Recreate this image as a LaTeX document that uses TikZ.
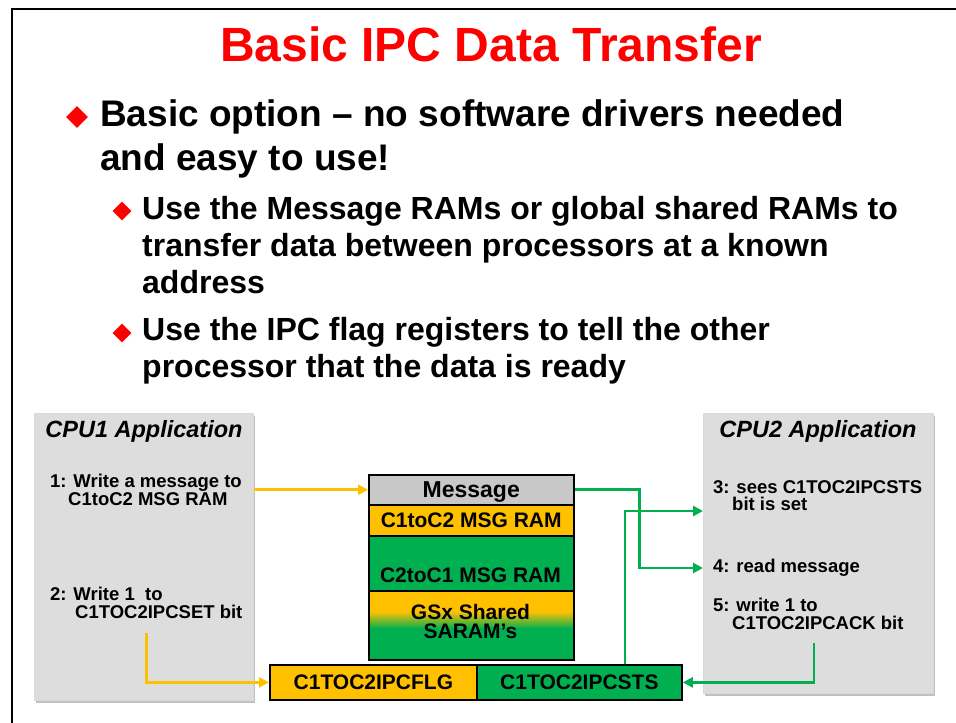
\documentclass[tikz,border=0pt]{standalone}
\usepackage{fontspec}
\setmainfont{Liberation Sans}
\usetikzlibrary{arrows.meta,shapes.geometric,shadows}
\definecolor{tiyel}{HTML}{FFC000}
\definecolor{tigrn}{HTML}{00B050}
\definecolor{boxgray}{HTML}{DDDDDD}
\definecolor{msggray}{HTML}{C8C8C8}
\newcommand{\fsz}[2]{\fontsize{#1}{#2}\selectfont}
\begin{document}
\begin{tikzpicture}[x=1pt,y=-1pt,
  lone/.style={inner sep=0pt, anchor=base west, font=\bfseries\fsz{37}{45}},
  ltwo/.style={inner sep=0pt, anchor=base west, font=\bfseries\fsz{32}{37}},
  bul/.style={diamond, fill=red, inner sep=0pt, aspect=1},
  txt/.style={inner sep=0pt, anchor=base west, font=\bfseries\fsz{18.5}{19}},
  apptitle/.style={inner sep=0pt, anchor=base, font=\bfseries\itshape\fsz{23.5}{25}},
  appbox/.style={fill=boxgray, draw=gray!30, line width=0.6pt, inner sep=0pt, anchor=north west,
    drop shadow={shadow xshift=1.5pt, shadow yshift=-2.5pt, opacity=0.35, fill=black!70}},
  memrow/.style={draw=black, line width=1.5pt, inner sep=0pt, minimum width=205, anchor=north west,
    font=\bfseries\fsz{21}{22}, text height=15, text depth=0},
  memtxt/.style={inner sep=0pt, anchor=base, font=\bfseries\fsz{21}{22}},
  reg/.style={draw=black, line width=1.8pt, inner sep=0pt, minimum height=35, anchor=north west,
    font=\bfseries\fsz{21}{22}, text height=15, text depth=0},
  yarrow/.style={draw=tiyel, line width=2.9pt, -{Triangle[length=10pt,width=10pt]}},
  garrow/.style={draw=tigrn, line width=2.9pt, -{Triangle[length=10pt,width=10pt]}}
]
\useasboundingbox (0,0) rectangle (956,723);
\fill[white] (0,0) rectangle (956,723);
% frame
\draw[line width=2.5pt] (12,723) -- (12,9) -- (956,9);

% title
\node[inner sep=0pt, anchor=base, font=\bfseries\fsz{48}{50}, text=red] (title) at (491,61) {Basic IPC Data Transfer};

% bullets
\node[bul, minimum width=22, minimum height=22] (d1) at (77,117) {};
\node[lone] (b1a) at (100,126) {Basic option – no software drivers needed};
\node[lone] (b1b) at (100,170) {and easy to use!};
\node[bul, minimum width=19, minimum height=19] (d2) at (122,211) {};
\node[ltwo] (b2a) at (142,219) {Use the Message RAMs or global shared RAMs to};
\node[ltwo] (b2b) at (142,256) {transfer data between processors at a known};
\node[ltwo] (b2c) at (142,293) {address};
\node[bul, minimum width=19, minimum height=19] (d3) at (122,333) {};
\node[ltwo] (b3a) at (142,340) {Use the IPC flag registers to tell the other};
\node[ltwo] (b3b) at (142,377) {processor that the data is ready};

% application boxes
\node[appbox, minimum width=219, minimum height=287] (cpu1) at (34,413) {};
\node[appbox, minimum width=230, minimum height=280] (cpu2) at (703,413) {};
\node[apptitle] (cpu1t) at (144,437) {CPU1 Application};
\node[apptitle] (cpu2t) at (818,437) {CPU2 Application};

\node[txt] (s1a) at (50,487) {1: Write a message to};
\node[txt] (s1b) at (68,505) {C1toC2 MSG RAM};
\node[txt] (s2a) at (50,600) {2: Write 1\ \ to};
\node[txt] (s2b) at (75,618) {C1TOC2IPCSET bit};
\node[txt] (s3a) at (713,493) {3: sees C1TOC2IPCSTS};
\node[txt] (s3b) at (732,510) {bit is set};
\node[txt] (s4a) at (713,572) {4: read message};
\node[txt] (s5a) at (713,611) {5: write 1 to};
\node[txt] (s5b) at (732,629) {C1TOC2IPCACK bit};

% memory stack
\node[memrow, fill=msggray, minimum height=30, font=\bfseries\fsz{23}{24}, text height=16] (msg) at (368,474) {Message};
\node[memrow, fill=tiyel, minimum height=31] (c12) at (368,504) {C1toC2 MSG RAM};
\node[memrow, fill=tigrn, minimum height=55] (c21) at (368,535) {};
\node[memtxt] (c21t) at (470.5,582) {C2toC1 MSG RAM};
\fill[tiyel] (368,590) rectangle (573,612);
\shade[top color=tiyel, bottom color=tigrn] (368,611.5) rectangle (573,628.5);
\fill[tigrn] (368,628) rectangle (573,659);
\node[memrow, minimum height=69] (gsx) at (368,590) {};
\node[memtxt] (gsxa) at (470.5,619) {GSx Shared};
\node[memtxt] (gsxb) at (470.5,638) {SARAM’s};

% registers
\node[reg, fill=tiyel, minimum width=207] (flg) at (269,664) {C1TOC2IPCFLG};
\node[reg, fill=tigrn, minimum width=205] (sts) at (476,664) {C1TOC2IPCSTS};

% connectors
\coordinate (y3) at (0,511);
\coordinate (y4) at (0,568);
\coordinate (s2o) at (146.7,633);
\coordinate (g3) at (625,664);
\coordinate (s5o) at (814,643);
\draw[yarrow] (cpu1.east |- msg.west) -- (msg.west);
\draw[yarrow] (s2o) |- (flg.west);
\draw[garrow] (msg.east) -- ++(65,0) |- (cpu2.west |- y4);
\draw[garrow] (g3) |- (cpu2.west |- y3);
\draw[garrow] (s5o) |- (sts.east);
\end{tikzpicture}
\end{document}
